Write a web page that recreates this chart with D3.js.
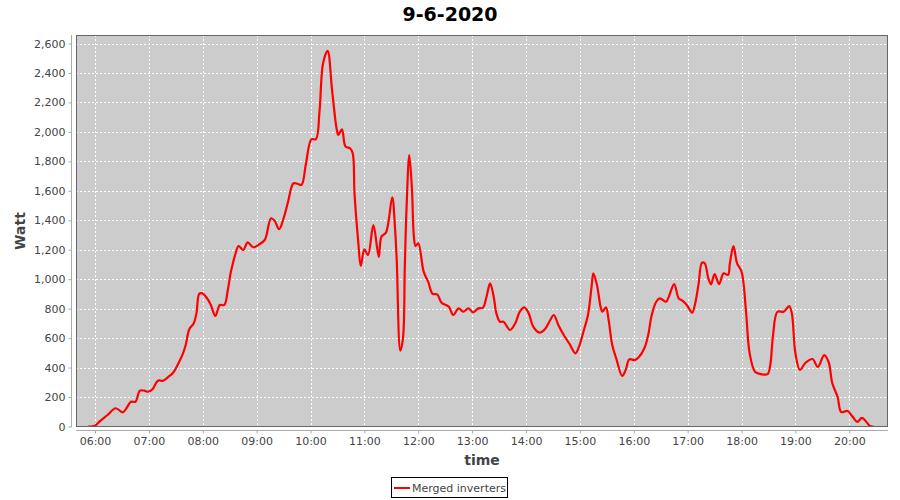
<!DOCTYPE html>
<html><head><meta charset="utf-8">
<script src="https://cdn.jsdelivr.net/npm/d3@7"></script>
<style>body{margin:0;background:#fff}svg{display:block}</style>
</head><body>
<script>
const chartTitle = "9-6-2020";
const seriesName = "Merged inverters";
const xLabel = "time";
const yLabel = "Watt";
const times = ["05:52","05:56","06:00","06:05","06:14","06:23","06:31","06:35","06:40","06:45","06:50","06:55","06:59","07:04","07:10","07:16","07:21","07:27","07:32","07:38","07:41","07:45","07:50","07:53","07:56","07:59","08:04","08:09","08:14","08:19","08:24","08:28","08:31","08:34","08:36","08:40","08:45","08:50","08:56","09:02","09:09","09:11","09:16","09:20","09:25","09:30","09:35","09:41","09:46","09:50","09:55","10:01","10:06","10:10","10:14","10:19","10:24","10:29","10:31","10:35","10:39","10:44","10:47","10:49","10:53","10:56","11:00","11:04","11:10","11:16","11:19","11:24","11:31","11:34","11:36","11:40","11:43","11:45","11:47","11:50","11:53","11:55","11:57","12:00","12:06","12:11","12:16","12:21","12:26","12:34","12:39","12:45","12:50","12:56","13:01","13:07","13:12","13:16","13:20","13:24","13:27","13:31","13:35","13:42","13:48","13:53","13:58","14:03","14:08","14:15","14:21","14:27","14:31","14:36","14:42","14:48","14:55","14:59","15:05","15:09","15:13","15:15","15:19","15:23","15:25","15:29","15:32","15:36","15:41","15:47","15:51","15:55","16:01","16:06","16:12","16:16","16:20","16:25","16:29","16:36","16:39","16:45","16:50","16:54","16:59","17:05","17:08","17:12","17:16","17:19","17:23","17:26","17:30","17:35","17:40","17:45","17:47","17:51","17:55","18:00","18:05","18:09","18:15","18:21","18:29","18:32","18:35","18:40","18:47","18:53","18:56","19:00","19:05","19:11","19:19","19:25","19:32","19:37","19:41","19:47","19:51","19:58","20:04","20:09","20:14","20:20","20:23","20:27"];
const watts = [0,0,5,33,78,124,96,124,168,168,243,243,236,253,311,311,334,365,418,497,553,660,701,768,900,905,877,825,750,825,825,930,1040,1119,1164,1225,1198,1250,1217,1232,1266,1300,1413,1397,1339,1413,1526,1651,1646,1640,1787,1950,1950,2137,2466,2550,2284,2024,1979,2018,1900,1889,1855,1583,1266,1090,1203,1164,1367,1152,1289,1316,1556,1356,1130,515,600,1085,1492,1843,1606,1300,1225,1244,1051,983,900,897,840,813,757,802,779,802,775,802,806,881,972,881,768,711,711,655,701,779,809,768,678,637,660,723,757,689,621,565,497,542,667,757,949,1040,961,813,779,809,723,553,451,343,384,456,451,474,535,620,757,847,870,847,881,967,870,854,825,773,825,961,1112,1108,1006,965,1035,967,1040,1029,1108,1225,1108,1051,779,497,372,356,356,418,614,779,779,818,768,497,384,431,458,404,485,438,295,200,98,105,64,31,58,24,3,0];
const yTicks = [0,200,400,600,800,1000,1200,1400,1600,1800,2000,2200,2400,2600];
const xTickLabels = ["06:00","07:00","08:00","09:00","10:00","11:00","12:00","13:00","14:00","15:00","16:00","17:00","18:00","19:00","20:00"];

const W = 900, H = 500;
const plot = {l: 76, r: 888, t: 35, b: 427};
const parse = d3.timeParse("%Y-%m-%d %H:%M");
const day = "2020-06-09 ";
const data = times.map((t, i) => ({t: parse(day + t), v: watts[i]}));

const x = d3.scaleTime()
  .domain([parse(day + "06:00"), parse(day + "20:00")])
  .range([95, 849.3]);
const y = d3.scaleLinear().domain([0, 2600]).range([426.5, 43.5]);

const svg = d3.select("body").append("svg").attr("width", W).attr("height", H)
  .style("font-family", "'DejaVu Sans', sans-serif");

svg.append("rect").attr("width", W).attr("height", H).attr("fill", "#fff");

svg.append("text").attr("x", 450).attr("y", 21).attr("text-anchor", "middle")
  .attr("font-size", 19).attr("font-weight", "bold").attr("fill", "#000").text(chartTitle);

// plot background
svg.append("rect").attr("x", plot.l).attr("y", plot.t)
  .attr("width", plot.r - plot.l).attr("height", plot.b - plot.t)
  .attr("fill", "#cccccc");

const xTickDates = xTickLabels.map(s => parse(day + s));

// gridlines
const grid = svg.append("g").attr("stroke", "#ffffff").attr("stroke-width", 1)
  .attr("stroke-dasharray", "2,2").attr("shape-rendering", "crispEdges");
grid.selectAll(".gx").data(xTickDates).join("line")
  .attr("x1", d => Math.round(x(d)) + 0.5).attr("x2", d => Math.round(x(d)) + 0.5)
  .attr("y1", plot.t).attr("y2", plot.b);
grid.selectAll(".gy").data(yTicks).join("line")
  .attr("y1", d => Math.round(y(d)) + 0.5).attr("y2", d => Math.round(y(d)) + 0.5)
  .attr("x1", plot.l).attr("x2", plot.r);

// line
const line = d3.line().x(d => x(d.t)).y(d => y(d.v)).curve(d3.curveCatmullRom.alpha(0.5));
const clipId = "pclip";
svg.append("clipPath").attr("id", clipId).append("rect")
  .attr("x", plot.l).attr("y", plot.t).attr("width", plot.r - plot.l).attr("height", plot.b - plot.t);
svg.append("path").datum(data).attr("d", line).attr("fill", "none")
  .attr("stroke", "#ff0000").attr("stroke-width", 2.2).attr("stroke-linejoin", "round")
  .attr("clip-path", `url(#${clipId})`);

// plot border
svg.append("rect").attr("x", plot.l + 0.5).attr("y", plot.t + 0.5)
  .attr("width", plot.r - plot.l - 1).attr("height", plot.b - plot.t - 1)
  .attr("fill", "none").attr("stroke", "#666666").attr("stroke-width", 1);

// y axis
const yAxis = d3.axisLeft(y).tickValues(yTicks).tickSize(3).tickPadding(3)
  .tickFormat(d3.format(","));
const gy = svg.append("g").attr("transform", "translate(71.5,0)").call(yAxis);
gy.select(".domain").attr("d", `M0,${plot.t}V${plot.b}`).attr("stroke", "#aaaaaa");
gy.selectAll(".tick line").attr("stroke", "#aaaaaa");
gy.selectAll(".tick text").attr("font-size", 11).attr("fill", "#444444")
  .attr("font-family", "'DejaVu Sans', sans-serif");

// x axis
const xAxis = d3.axisBottom(x).tickValues(xTickDates).tickSize(3).tickPadding(4)
  .tickFormat(d3.timeFormat("%H:%M"));
const gx = svg.append("g").attr("transform", "translate(0,430.5)").call(xAxis);
gx.select(".domain").attr("d", `M${plot.l},0H${plot.r}`).attr("stroke", "#aaaaaa");
gx.selectAll(".tick line").attr("stroke", "#aaaaaa");
gx.selectAll(".tick text").attr("font-size", 11).attr("fill", "#444444")
  .attr("font-family", "'DejaVu Sans', sans-serif");

// axis labels
svg.append("text").attr("x", (plot.l + plot.r) / 2).attr("y", 465).attr("text-anchor", "middle")
  .attr("font-size", 14).attr("font-weight", "bold").attr("fill", "#444444").text(xLabel);
svg.append("text").attr("transform", `translate(25,${(plot.t + plot.b) / 2}) rotate(-90)`)
  .attr("text-anchor", "middle").attr("font-size", 14).attr("font-weight", "bold")
  .attr("fill", "#444444").text(yLabel);

// legend
const lg = svg.append("g");
lg.append("rect").attr("x", 391.5).attr("y", 477.5).attr("width", 116).attr("height", 20)
  .attr("fill", "#fff").attr("stroke", "#000").attr("stroke-width", 1);
lg.append("line").attr("x1", 394).attr("x2", 410).attr("y1", 488).attr("y2", 488)
  .attr("stroke", "#ff0000").attr("stroke-width", 2);
lg.append("text").attr("x", 412).attr("y", 492).attr("font-size", 11).attr("fill", "#444444")
  .text(seriesName);
</script>
</body></html>
